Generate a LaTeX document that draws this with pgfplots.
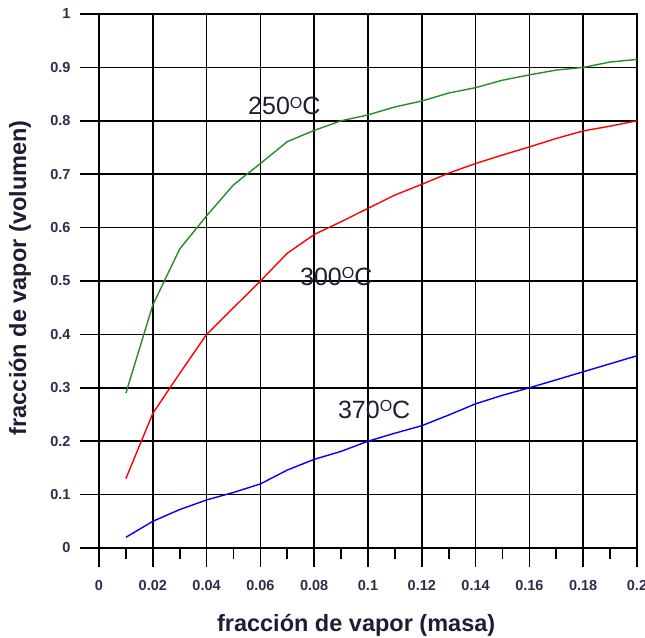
\documentclass[border=0pt]{standalone}
\usepackage{fontspec}
\setmainfont{Liberation Sans}
\usepackage{pgfplots}
\pgfplotsset{compat=1.18}
\definecolor{tickc}{RGB}{45,45,75}
\definecolor{labc}{RGB}{30,30,50}
\definecolor{gr}{RGB}{40,140,40}
\begin{document}
\begin{tikzpicture}[x=1pt,y=1pt]
\useasboundingbox (0,0) rectangle (645,637);
\begin{axis}[
  at={(99pt,89pt)}, anchor=south west,
  scale only axis, width=538pt, height=534pt,
  xmin=0, xmax=0.2, ymin=0, ymax=1,
  xtick={0,0.02,0.04,0.06,0.08,0.1,0.12,0.14,0.16,0.18,0.2},
  xticklabels={0,0.02,0.04,0.06,0.08,0.1,0.12,0.14,0.16,0.18,0.2},
  minor xtick={0.01,0.03,0.05,0.07,0.09,0.11,0.13,0.15,0.17,0.19},
  ytick={0,0.1,0.2,0.3,0.4,0.5,0.6,0.7,0.8,0.9,1},
  yticklabels={0,0.1,0.2,0.3,0.4,0.5,0.6,0.7,0.8,0.9,1},
  xtick pos=bottom, ytick pos=left,
  tick align=outside,
  major tick length=19pt, minor tick length=11pt,
  grid=major,
  major grid style={black, line width=1.7pt},
  axis line style={black, line width=1.7pt},
  every tick/.style={black, line width=1.7pt},
  /pgf/number format/assume math mode=true,
  ticklabel style={font=\fontsize{14.5}{15}\selectfont\bfseries, text=tickc},
  xticklabel style={yshift=-10pt},
  yticklabel style={xshift=-6pt},
  xlabel={fracción de vapor (masa)},
  ylabel={fracción de vapor (volumen)},
  xlabel style={font=\fontsize{23.5}{26}\selectfont\bfseries, text=labc, at={(axis description cs:0.478,-0.144)}, anchor=center},
  ylabel style={font=\fontsize{23.5}{26}\selectfont\bfseries, text=labc, at={(axis description cs:-0.147,0.506)}, anchor=center, rotate=0},
  clip=false,
]
\addplot[gr, line width=1.4pt] coordinates {
(0.01,0.29) (0.02,0.455) (0.03,0.56) (0.04,0.622) (0.05,0.68) (0.06,0.72) (0.07,0.761) (0.08,0.782) (0.09,0.80) (0.10,0.811) (0.11,0.826) (0.12,0.837) (0.13,0.852) (0.14,0.862) (0.15,0.876) (0.16,0.886) (0.17,0.895) (0.18,0.900) (0.19,0.910) (0.20,0.915)};
\addplot[red, line width=1.4pt] coordinates {
(0.01,0.13) (0.02,0.252) (0.03,0.327) (0.04,0.40) (0.05,0.45) (0.06,0.50) (0.07,0.552) (0.08,0.587) (0.09,0.611) (0.10,0.636) (0.11,0.661) (0.12,0.681) (0.13,0.702) (0.14,0.720) (0.15,0.736) (0.16,0.751) (0.17,0.767) (0.18,0.781) (0.19,0.790) (0.20,0.800)};
\addplot[blue, line width=1.4pt] coordinates {
(0.01,0.02) (0.02,0.05) (0.03,0.072) (0.04,0.09) (0.05,0.104) (0.06,0.12) (0.07,0.146) (0.08,0.166) (0.09,0.181) (0.10,0.20) (0.11,0.215) (0.12,0.229) (0.13,0.249) (0.14,0.27) (0.15,0.286) (0.16,0.30) (0.17,0.315) (0.18,0.33) (0.19,0.345) (0.20,0.36)};
\node[anchor=base west, inner sep=0, text=labc, font=\fontsize{25}{26}\selectfont] at (axis cs:0.0554,0.811) {250\raisebox{6.4pt}{\fontsize{16}{16}\selectfont O}C};
\node[anchor=base west, inner sep=0, text=labc, font=\fontsize{25}{26}\selectfont] at (axis cs:0.0747,0.4925) {300\raisebox{6.4pt}{\fontsize{16}{16}\selectfont O}C};
\node[anchor=base west, inner sep=0, text=labc, font=\fontsize{25}{26}\selectfont] at (axis cs:0.0888,0.243) {370\raisebox{6.4pt}{\fontsize{16}{16}\selectfont O}C};
\end{axis}
\end{tikzpicture}
\end{document}
